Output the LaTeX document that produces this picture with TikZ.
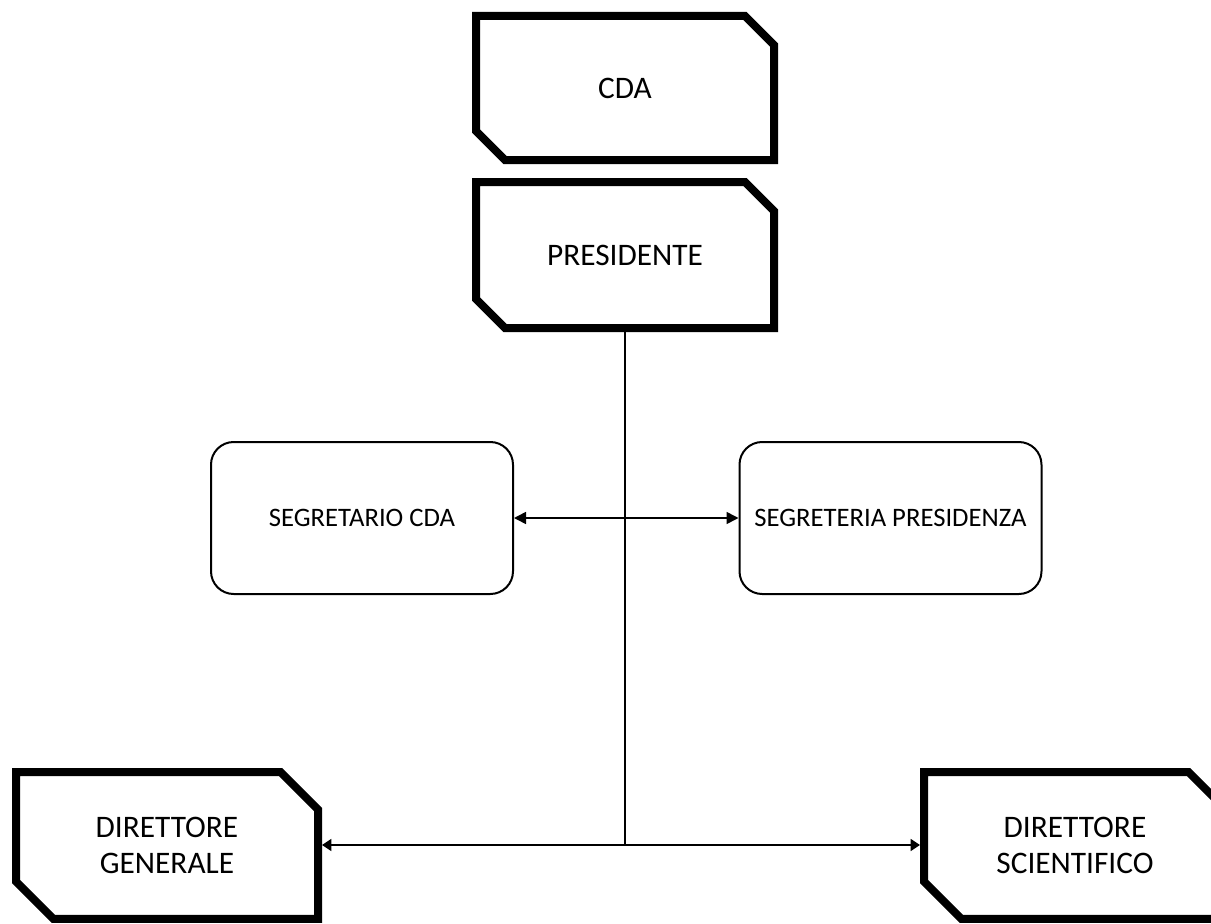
\documentclass[tikz,border=0pt]{standalone}
\usepackage{fontspec}
\setmainfont{Carlito}
\usetikzlibrary{shapes.misc,arrows.meta}
\begin{document}
\begin{tikzpicture}[x=0.75pt,y=-0.75pt,
  bigbox/.style={chamfered rectangle, chamfered rectangle corners={north east,south west},
    chamfered rectangle xsep=14pt, chamfered rectangle ysep=14pt,
    draw=black, line width=6pt, miter limit=10, fill=white, minimum width=226.5pt,
    minimum height=109pt, inner sep=0pt, align=center, font=\fontsize{23.5}{27.5}\selectfont},
  smallbox/.style={rectangle, rounded corners=17pt, draw=black, line width=1.5pt, fill=white,
    minimum width=226.5pt, minimum height=114pt, inner sep=0pt, align=center,
    font=\fontsize{20}{24}\selectfont},
  conn/.style={draw=black, line width=1.2pt},
  arr/.style={conn, -{Triangle[length=9pt,width=9pt]}},
  arrs/.style={conn, -{Triangle[length=7pt,width=9pt]}}]
\useasboundingbox (0,0) rectangle (1211,924);
\begin{scope}
\clip (0,0) rectangle (1211,924);
\node[bigbox, minimum width=223.5pt, minimum height=108pt] (cda) at (625,88) {CDA};
\node[bigbox, minimum width=223.5pt, minimum height=109.5pt] (pres) at (625,255) {PRESIDENTE};
\node[smallbox] (sc) at (362,518) {SEGRETARIO CDA};
\node[smallbox] (sp) at (890.5,518) {SEGRETERIA PRESIDENZA};
\node[bigbox, minimum height=110pt] (dg) at (167,845.5) {DIRETTORE\\GENERALE};
\node[bigbox, minimum height=110pt] (ds) at (1075,845.5) {DIRETTORE\\SCIENTIFICO};
\coordinate (j) at (pres.south |- 0,845);
\draw[conn] (pres.south) -- (j);
\draw[arr, {Triangle[length=9pt,width=9pt]}-{Triangle[length=9pt,width=9pt]}] (sc.east) -- (sp.west);
\draw[arrs] (j) -- (j -| dg.east);
\draw[arrs] (j) -- (j -| ds.west);
\end{scope}
\end{tikzpicture}
\end{document}
